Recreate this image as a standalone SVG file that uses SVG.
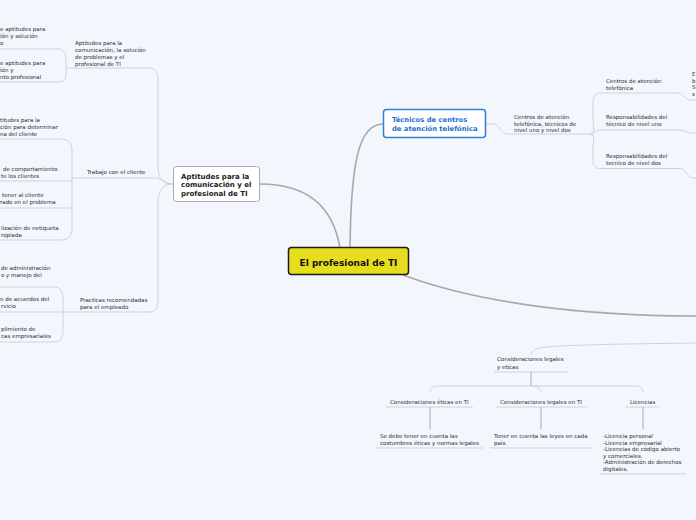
<svg xmlns="http://www.w3.org/2000/svg" width="696" height="520" viewBox="0 0 696 520">
<style>
.t{font-family:"DejaVu Sans",Verdana,sans-serif;font-size:5.5px;fill:#2e2e2e}
.ln{fill:none;stroke:#cfd2da;stroke-width:1}
.mid{fill:none;stroke:#b4b6bc;stroke-width:1.2}
.main{fill:none;stroke:#a9a9ab;stroke-width:1.6}
.b{font-family:"DejaVu Sans",Verdana,sans-serif;font-weight:bold}
</style>
<rect width="696" height="520" fill="#f3f6fd"/>
<g id="connectors">
<path class="main" d="M260,184 C300,184 332,200 340,248"/>
<path class="main" d="M350,248 C351,165 358,124 383,124"/>
<path class="main" d="M403,275 C470,300 570,316 696,316"/>
<path class="ln" d="M696,343 C620,344 552,345 540,348 C533,350 531,352 531,355"/>
<path class="ln" d="M173,184 C163,184 158,180 158,165 L158,80 C158,72 155,68 150,68"/>
<path class="ln" d="M173,184 C165,184 162,178 155,178"/>
<path class="ln" d="M173,184 C163,184 158,190 158,205 L158,300 C158,308 155,312 150,312"/>
<path class="ln" d="M66,68 L150,68"/>
<path class="ln" d="M0,49 L58,49 C64,49 66,54 66,60 L66,74 C66,80 64,82 58,82 L0,82"/>
<path class="ln" d="M72,178 L155,178"/>
<path class="ln" d="M0,139 L62,139 C68,139 72,143 72,150 L72,229 C72,236 68,240 62,240 L0,240"/>
<path class="ln" d="M0,181 L72,181"/>
<path class="ln" d="M0,208 L72,208"/>
<path class="ln" d="M63,312 L152,312"/>
<path class="ln" d="M0,287 L55,287 C61,287 63,292 63,299 L63,330 C63,337 61,342 55,342 L0,342"/>
<path class="ln" d="M0,312 L63,312"/>
<path class="ln" d="M486,124 L493,124 C500,124 500,134 508,134 L590,134"/>
<path class="ln" d="M590,134 C596,134 593,128 593,120 L593,103 C593,96 596,93 600,93 L677,93 C684,93 684,100 692,100 L696,100"/>
<path class="ln" d="M590,134 C595,134 595,130 600,130 L680,130 C686,130 686,133 692,133 L696,133"/>
<path class="ln" d="M590,134 C596,134 593,140 593,148 L593,160 C593,166 596,168.5 600,168.5 L680,168.5 C687,168.5 686,178 694,178 L696,178"/>
<path class="ln" d="M494,372 L568,372"/>
<path class="mid" d="M531,372 L531,386"/>
<path class="ln" d="M437,386 L636,386 C641,386 643,389 643,393"/>
<path class="ln" d="M437,386 C432,386 430,389 430,393"/>
<path class="ln" d="M531,386 C538,386 541,388 541,393"/>
<path class="ln" d="M386,407 L473,407"/>
<path class="ln" d="M496,407 L587,407"/>
<path class="ln" d="M626,407 L659,407"/>
<path class="mid" d="M430,407 L430,429"/>
<path class="mid" d="M541,407 L541,429"/>
<path class="mid" d="M643,407 L643,429"/>
<path class="ln" d="M375,448 L483,448"/>
<path class="ln" d="M490,448 L592,448"/>
<path class="ln" d="M599,474 L686,474"/>
</g>
<g id="central">
<rect x="288.5" y="247.5" width="120" height="27" rx="3" fill="#e6dd1d" stroke="#1c1c1c" stroke-width="1.5"/>
<text class="b" x="348.5" y="266" font-size="9" fill="#111" text-anchor="middle">El profesional de TI</text>
</g>
<g id="aptitudes-node">
<rect x="173.5" y="166.5" width="86" height="35" rx="3" fill="#ffffff" stroke="#a9abb0" stroke-width="1"/>
<text class="b" font-size="7" fill="#222"><tspan x="181" y="178.5">Aptitudes para la</tspan><tspan x="181" y="187">comunicación y el</tspan><tspan x="181" y="195.5">profesional de TI</tspan></text>
</g>
<g id="tecnicos-node">
<rect x="383.5" y="109.5" width="102" height="28" rx="3" fill="#ffffff" stroke="#2f80d8" stroke-width="1.5"/>
<text class="b" font-size="6.8" fill="#1b70d0"><tspan x="392" y="121.5">Técnicos de centros</tspan><tspan x="392" y="130.5">de atención telefónica</tspan></text>
</g>
<g id="aptitudes-sub">
<text class="t"><tspan x="75" y="45">Aptitudes para la</tspan><tspan x="75" y="52">comunicación, la solución</tspan><tspan x="75" y="59">de problemas y el</tspan><tspan x="75" y="66">profesional de TI</tspan></text>
</g>
<g id="aptitudes-c1">
<text class="t"><tspan x="0" y="31">e aptitudes para</tspan><tspan x="0" y="38">ión y solución</tspan><tspan x="0" y="45">o</tspan></text>
</g>
<g id="aptitudes-c2">
<text class="t"><tspan x="0" y="65">e aptitudes para</tspan><tspan x="0" y="72">ión y</tspan><tspan x="0" y="79">nto profesional</tspan></text>
</g>
<g id="trabajo">
<text class="t" x="87" y="174">Trabajo con el cliente</text>
</g>
<g id="trabajo-c1">
<text class="t"><tspan x="0" y="122">titudes para la</tspan><tspan x="0" y="129">ción para determinar</tspan><tspan x="0" y="136">na del cliente</tspan></text>
</g>
<g id="trabajo-c2">
<text class="t"><tspan x="3" y="171">de comportamiento</tspan><tspan x="1" y="178">te los clientes</tspan></text>
</g>
<g id="trabajo-c3">
<text class="t"><tspan x="2" y="197">tener al cliente</tspan><tspan x="0" y="204">rado en el problema</tspan></text>
</g>
<g id="trabajo-c4">
<text class="t"><tspan x="1" y="230">lización de netiqueta</tspan><tspan x="1" y="237">ropiada</tspan></text>
</g>
<g id="practicas">
<text class="t"><tspan x="80" y="302">Practicas recomendadas</tspan><tspan x="80" y="309">para el empleado</tspan></text>
</g>
<g id="practicas-c1">
<text class="t"><tspan x="1" y="270">de administración</tspan><tspan x="1" y="277">o y manejo del</tspan></text>
</g>
<g id="practicas-c2">
<text class="t"><tspan x="0" y="301">n de acuerdos del</tspan><tspan x="1" y="308">rvicio</tspan></text>
</g>
<g id="practicas-c3">
<text class="t"><tspan x="1" y="331">plimiento de</tspan><tspan x="1" y="338">cas empresariales</tspan></text>
</g>
<g id="centros-sub">
<text class="t"><tspan x="514" y="119">Centros de atención</tspan><tspan x="514" y="125.5">telefónica, técnicos de</tspan><tspan x="514" y="132">nivel uno y nivel dos</tspan></text>
</g>
<g id="centros-c1">
<text class="t"><tspan x="606" y="83">Centros de atención</tspan><tspan x="606" y="90">telefónica</tspan></text>
</g>
<g id="centros-c1-child">
<text class="t"><tspan x="692" y="76">E</tspan><tspan x="692" y="82.5">b</tspan><tspan x="692" y="89">S</tspan><tspan x="692" y="95.5">s</tspan></text>
</g>
<g id="centros-c2">
<text class="t"><tspan x="606" y="119">Responsabilidades del</tspan><tspan x="606" y="126">técnico de nivel uno</tspan></text>
</g>
<g id="centros-c3">
<text class="t"><tspan x="606" y="158">Responsabilidades del</tspan><tspan x="606" y="165">tecnico de nivel dos</tspan></text>
</g>
<g id="consideraciones">
<text class="t"><tspan x="497" y="361">Consideraciones legales</tspan><tspan x="497" y="368.5">y eticas</tspan></text>
</g>
<g id="eticas">
<text class="t" x="390" y="404">Consideraciones éticas en TI</text>
</g>
<g id="legales">
<text class="t" x="500" y="404">Consideraciones legales en TI</text>
</g>
<g id="licencias">
<text class="t" x="630" y="404">Licencias</text>
</g>
<g id="eticas-c">
<text class="t"><tspan x="380" y="438">Se debe tener en cuenta las</tspan><tspan x="380" y="444.5">costumbres éticas y normas legales</tspan></text>
</g>
<g id="legales-c">
<text class="t"><tspan x="494" y="438">Tener en cuenta las leyes en cada</tspan><tspan x="494" y="444.5">país.</tspan></text>
</g>
<g id="licencias-c">
<text class="t"><tspan x="603" y="438">-Licencia personal</tspan><tspan x="603" y="444.5">-Licencia empresarial</tspan><tspan x="603" y="451">-Licencias de código abierto</tspan><tspan x="603" y="457.5">y comerciales.</tspan><tspan x="603" y="464">-Administración de derechos</tspan><tspan x="603" y="470.5">digitales.</tspan></text>
</g>
</svg>
